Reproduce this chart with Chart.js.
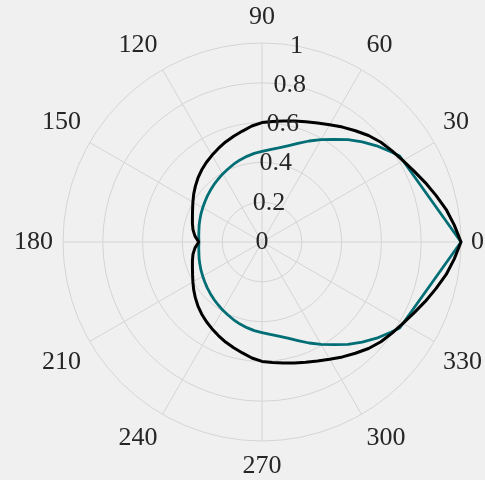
<!DOCTYPE html>
<html>
<head>
<meta charset="utf-8">
<script src="https://cdn.jsdelivr.net/npm/chart.js@4/dist/chart.umd.min.js"></script>
<style>
  html, body { margin: 0; padding: 0; background: #f0f0f0; }
  canvas { display: block; }
</style>
</head>
<body>
<canvas id="chart" width="485" height="480"></canvas>
<script>
// Angular tick labels (degrees, counter-clockwise from east) and radial tick labels
const thetaTicks = [0, 30, 60, 90, 120, 150, 180, 210, 240, 270, 300, 330];
const radialTicks = [0, 0.2, 0.4, 0.6, 0.8, 1];

// Smooth pattern (black): radius at each angle
const blackAngles = [
  0, 5, 10, 15, 20, 25, 30, 35, 40, 45, 50, 55, 60, 65, 70, 75, 80, 85,
  90, 95, 100, 105, 110, 115, 120, 125, 130, 135, 140, 145, 150, 155, 160, 165, 170, 175,
  180, 185, 190, 195, 200, 205, 210, 215, 220, 225, 230, 235, 240, 245, 250, 255, 260, 265,
  270, 275, 280, 285, 290, 295, 300, 305, 310, 315, 320, 325, 330, 335, 340, 345, 350, 355
];
const blackRadii = [
  1.000, 0.970, 0.940, 0.905, 0.873, 0.843, 0.818, 0.798, 0.780, 0.757, 0.730, 0.705, 0.680, 0.660, 0.643, 0.630, 0.618, 0.608,
  0.600, 0.585, 0.566, 0.550, 0.535, 0.519, 0.503, 0.488, 0.472, 0.455, 0.437, 0.419, 0.401, 0.385, 0.372, 0.362, 0.352, 0.338,
  0.318, 0.338, 0.352, 0.362, 0.372, 0.385, 0.401, 0.419, 0.437, 0.455, 0.472, 0.488, 0.503, 0.519, 0.535, 0.550, 0.566, 0.585,
  0.600, 0.608, 0.618, 0.630, 0.643, 0.660, 0.680, 0.705, 0.730, 0.757, 0.780, 0.798, 0.818, 0.843, 0.873, 0.905, 0.940, 0.970
];

// Sampled pattern (teal): straight chords from the tip to the two corners near +/-32 deg
const tealAngles = [
  0, 32, 35, 40, 45, 50, 55, 60, 65, 70, 75, 80, 85,
  90, 95, 100, 105, 110, 115, 120, 125, 130, 135, 140, 145, 150, 155, 160, 165, 170, 175,
  180, 185, 190, 195, 200, 205, 210, 215, 220, 225, 230, 235, 240, 245, 250, 255, 260, 265,
  270, 275, 280, 285, 290, 295, 300, 305, 310, 315, 320, 325, 328
];
const tealRadii = [
  1.000, 0.816, 0.790, 0.752, 0.712, 0.672, 0.630, 0.594, 0.560, 0.527, 0.500, 0.480, 0.466,
  0.455, 0.447, 0.437, 0.427, 0.416, 0.405, 0.395, 0.385, 0.376, 0.367, 0.359, 0.351, 0.344, 0.338, 0.332, 0.327, 0.322, 0.319,
  0.317, 0.319, 0.322, 0.327, 0.332, 0.338, 0.344, 0.351, 0.359, 0.367, 0.376, 0.385, 0.395, 0.405, 0.416, 0.427, 0.437, 0.447,
  0.455, 0.466, 0.480, 0.500, 0.527, 0.560, 0.594, 0.630, 0.672, 0.712, 0.752, 0.790, 0.816
];

const STEPS = 360;                 // one radial-scale slot per degree
const TEXT_COLOR = '#262626';
const GRID_COLOR = '#d4d4d4';
const FONT_SIZE = 26;
const FONT = FONT_SIZE + 'px "Liberation Serif", "DejaVu Serif", serif';
const LABEL_PAD = 10;              // gap between outer ring and angle labels
const RLABEL_ANGLE = 80;           // direction along which radial labels sit

// Slot i of the radar scale points to (360 - i) degrees, so angles grow counter-clockwise
// once the scale starts at east (startAngle 90).
const slotOf = deg => (STEPS - deg) % STEPS;
const angleLabels = Array.from({ length: STEPS }, (_, i) => String((STEPS - i) % STEPS));

function toSeries(angles, radii) {
  const out = new Array(STEPS).fill(null);
  angles.forEach((a, k) => { out[slotOf(a)] = radii[k]; });
  return out;
}

const polarText = {
  id: 'polarText',
  afterDatasetsDraw(chart) {
    const s = chart.scales.r;
    const ctx = chart.ctx;
    const R = s.drawingArea;
    const lh = FONT_SIZE * 1.2;
    ctx.save();
    ctx.font = FONT;
    ctx.fillStyle = TEXT_COLOR;
    ctx.textBaseline = 'middle';
    thetaTicks.forEach(deg => {
      const p = s.getPointPosition(slotOf(deg), R + LABEL_PAD);
      const dx = p.x - s.xCenter, dy = p.y - s.yCenter;
      ctx.textAlign = dx > 1 ? 'left' : (dx < -1 ? 'right' : 'center');
      const y = dy < -1 ? p.y - lh / 2 : (dy > 1 ? p.y + lh / 2 : p.y);
      ctx.fillText(String(deg), p.x, y);
    });
    ctx.textAlign = 'center';
    radialTicks.forEach(v => {
      const p = s.getPointPosition(slotOf(RLABEL_ANGLE), s.getDistanceFromCenterForValue(v));
      ctx.fillText(String(v), p.x, p.y);
    });
    ctx.restore();
  }
};

new Chart(document.getElementById('chart'), {
  type: 'radar',
  data: {
    labels: angleLabels,
    datasets: [
      {
        data: toSeries(blackAngles, blackRadii),
        borderColor: '#000000',
        borderWidth: 3,
        pointRadius: 0,
        fill: false,
        spanGaps: true,
        tension: 0
      },
      {
        data: toSeries(tealAngles, tealRadii),
        borderColor: '#006e74',
        borderWidth: 2.8,
        pointRadius: 0,
        fill: false,
        spanGaps: true,
        tension: 0
      }
    ]
  },
  options: {
    responsive: false,
    animation: false,
    devicePixelRatio: 1,
    layout: { padding: { left: 63, right: 24, top: 43, bottom: 39 } },
    elements: { line: { borderJoinStyle: 'round' } },
    plugins: { legend: { display: false }, tooltip: { enabled: false } },
    scales: {
      r: {
        min: 0,
        max: 1,
        startAngle: 90,
        ticks: { display: false, stepSize: 0.2 },
        pointLabels: { display: false },
        grid: { circular: true, color: GRID_COLOR, lineWidth: 1 },
        angleLines: {
          display: true,
          color: ctx => (ctx.index % 30 === 0 ? GRID_COLOR : 'rgba(0,0,0,0)'),
          lineWidth: ctx => (ctx.index % 30 === 0 ? 1 : 0)
        }
      }
    }
  },
  plugins: [polarText]
});
</script>
</body>
</html>
